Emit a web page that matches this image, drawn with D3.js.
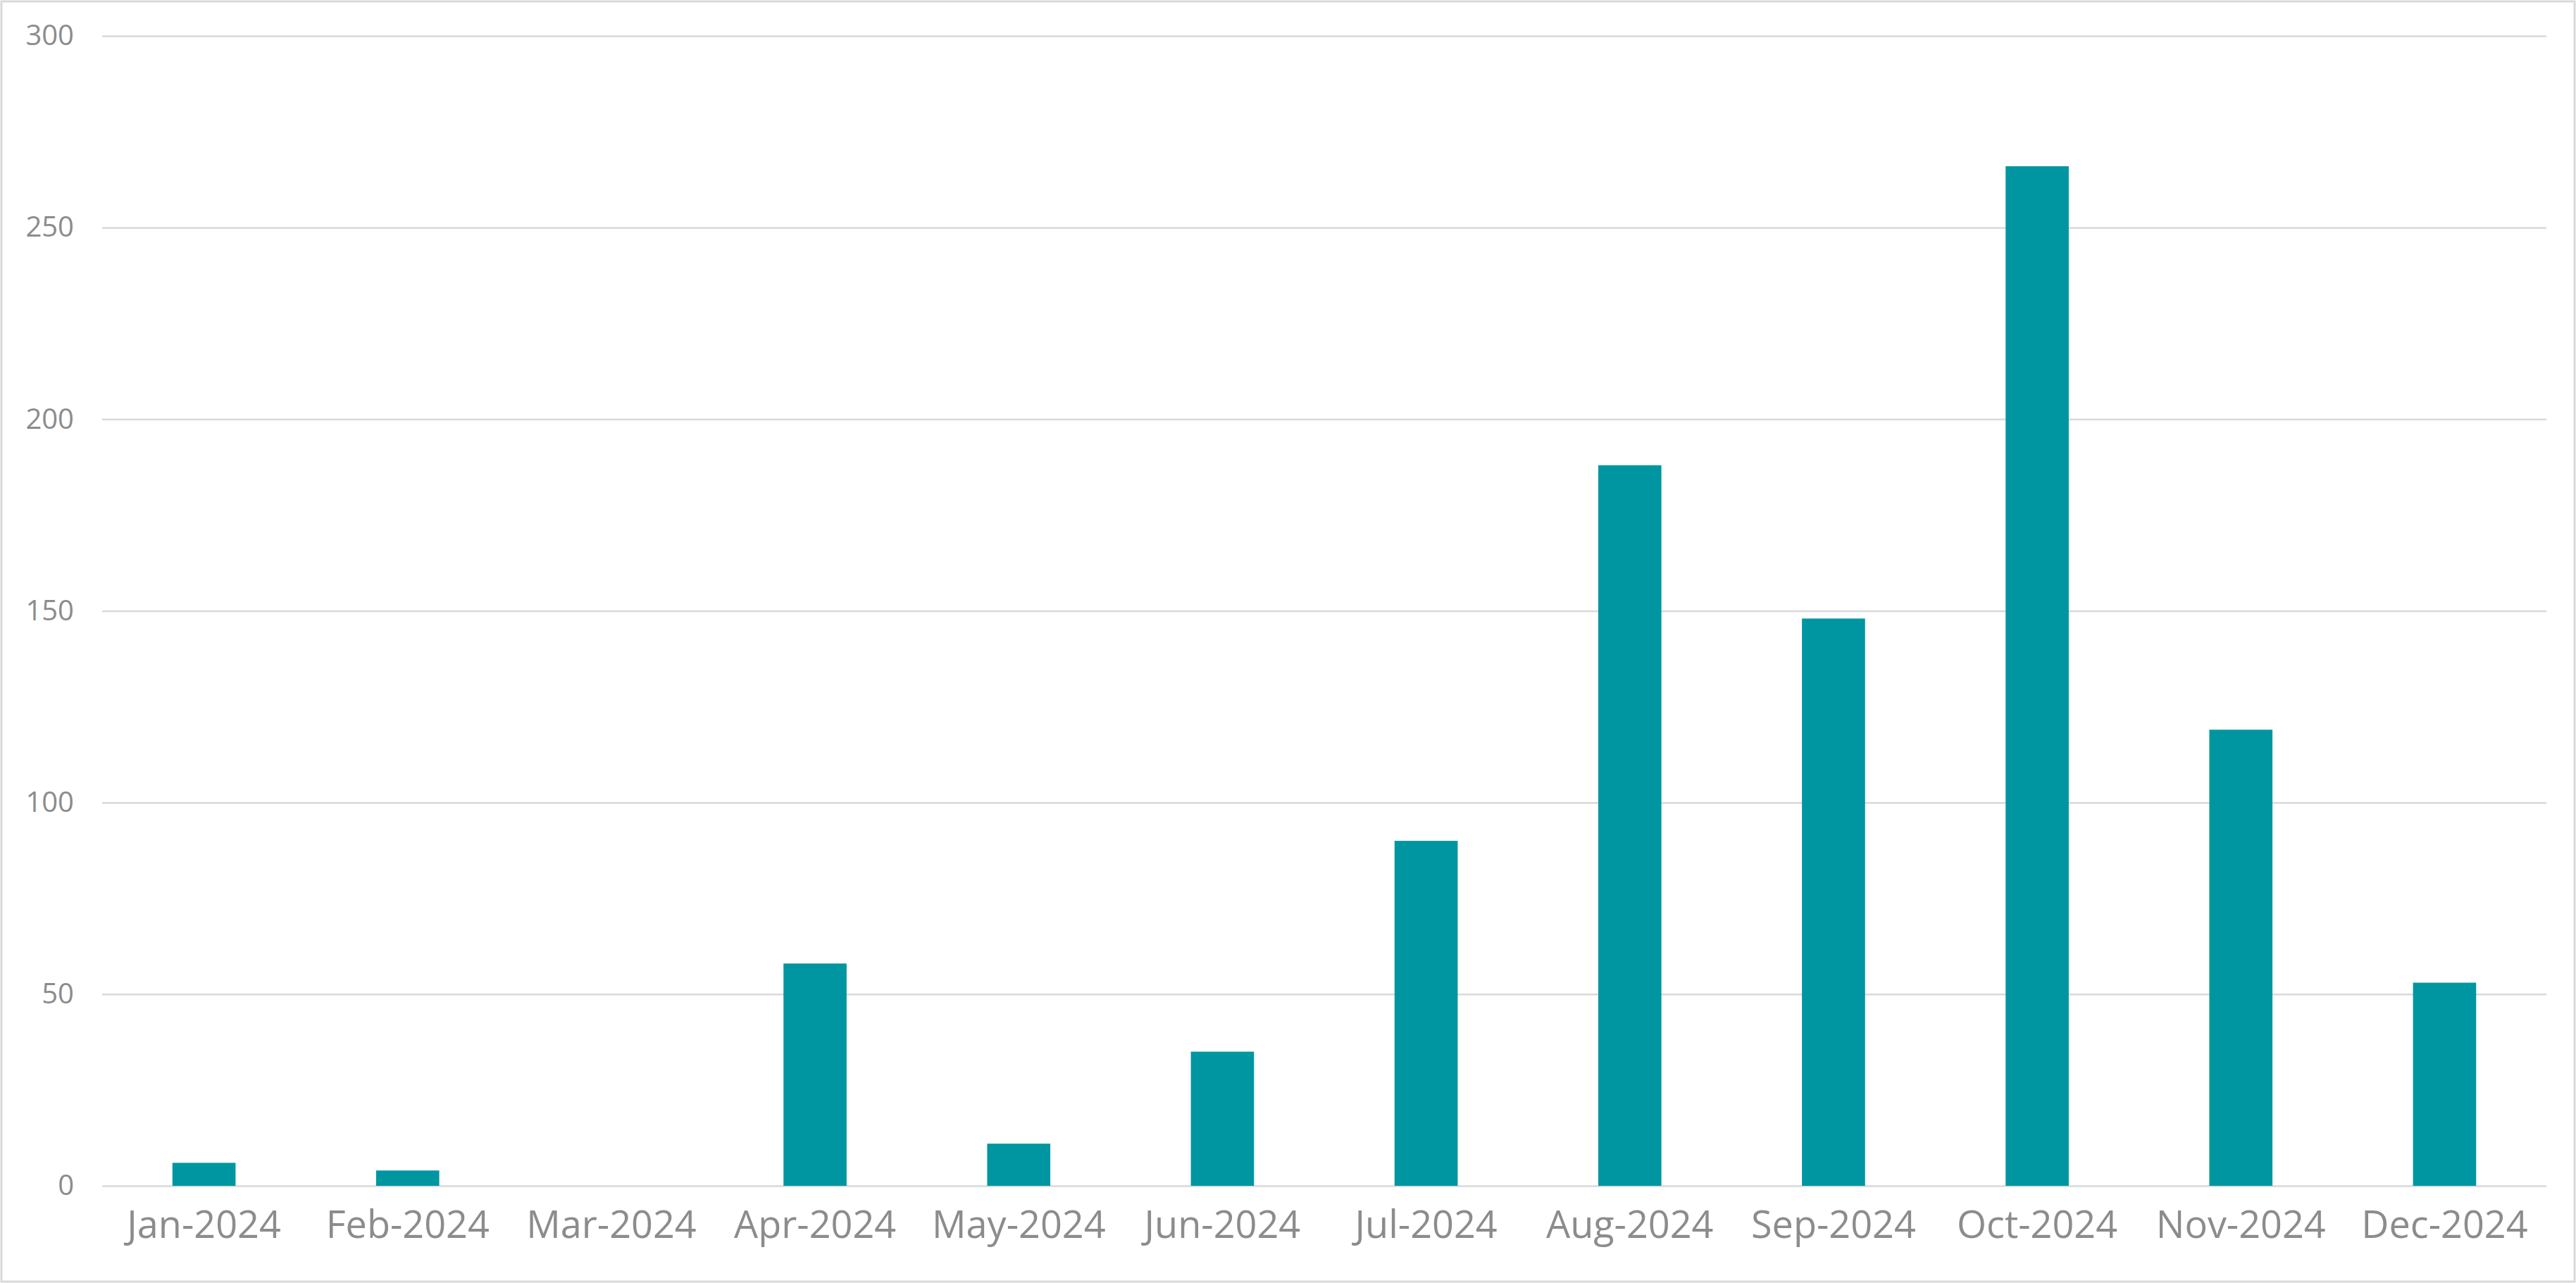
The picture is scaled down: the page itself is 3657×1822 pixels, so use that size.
<!DOCTYPE html><html><head><meta charset="utf-8"><script src="https://cdn.jsdelivr.net/npm/d3@7"></script>
<style>body{margin:0;background:#fff}svg{display:block}</style></head><body><script>
const categories=["Jan-2024","Feb-2024","Mar-2024","Apr-2024","May-2024","Jun-2024","Jul-2024","Aug-2024","Sep-2024","Oct-2024","Nov-2024","Dec-2024"];
const values=[6,4,0,58,11,35,90,188,148,266,119,53];
const yTicks=[0,50,100,150,200,250,300];
const W=3657,H=1822,m={l:145,r:42,t:51,b:138};
const svg=d3.select("body").append("svg").attr("width",W).attr("height",H);
svg.append("rect").attr("x",2).attr("y",2).attr("width",W-4).attr("height",H-4).attr("fill","#fff").attr("stroke","#d9d9d9").attr("stroke-width",3);
const x=d3.scaleBand().domain(categories).range([m.l,W-m.r]).paddingInner(0.69).paddingOuter(0.345);
const y=d3.scaleLinear().domain([0,300]).range([H-m.b,m.t]);
const gy=svg.append("g").attr("transform",`translate(${m.l},0)`).call(d3.axisLeft(y).tickValues(yTicks).tickSize(-(W-m.l-m.r)).tickPadding(40));
gy.select(".domain").remove();
gy.selectAll("line").attr("stroke","#d9d9d9").attr("stroke-width",2.5);
gy.selectAll("text").attr("fill","#8c8c8c").attr("font-size",40).attr("font-family","Open Sans");
svg.selectAll(".bar").data(values).join("rect").attr("x",(d,i)=>x(categories[i])).attr("width",x.bandwidth()).attr("y",d=>y(d)).attr("height",d=>y(0)-y(d)).attr("fill","#0096A1");
const gx=svg.append("g").attr("transform",`translate(0,${H-m.b})`).call(d3.axisBottom(x).tickSize(0).tickPadding(36));
gx.select(".domain").remove();
gx.selectAll("text").attr("fill","#8c8c8c").attr("font-size",54).attr("font-family","Open Sans");
</script></body></html>
